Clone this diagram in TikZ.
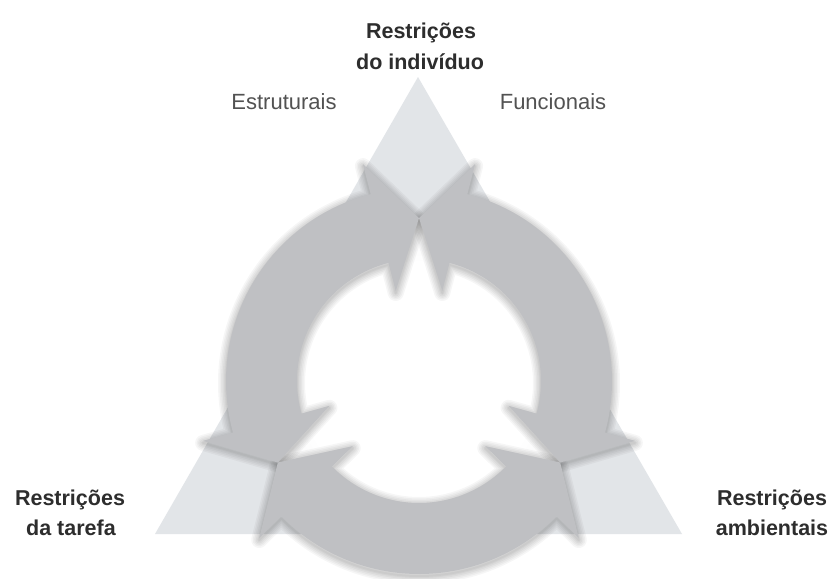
\documentclass[tikz,border=0pt]{standalone}
\usepackage{fontspec}
\setmainfont{Liberation Sans}
\definecolor{arrowgray}{RGB}{191,192,195}
\definecolor{tridark}{RGB}{206,210,214}
\definecolor{trilight}{RGB}{226,229,232}
\definecolor{diskedge}{RGB}{232,232,233}
\definecolor{labeldark}{RGB}{45,45,45}
\definecolor{labelgray}{RGB}{82,82,82}
\pgfdeclareradialshading{trishade}{\pgfpoint{0bp}{0bp}}{color(0bp)=(trilight); color(26bp)=(trilight); color(50bp)=(tridark)}
\pgfdeclareradialshading{diskshade}{\pgfpoint{0bp}{0bp}}{color(0bp)=(white); color(18bp)=(white); color(37bp)=(diskedge); color(50bp)=(diskedge)}
\begin{document}
\begin{tikzpicture}[x=1pt,y=1pt,
  arrowshape/.style={fill=arrowgray},
  softshadow/.style={draw=black, draw opacity=0.035, line join=round},
  boldlabel/.style={font=\fontsize{21.5}{26}\selectfont\bfseries, text=labeldark, inner sep=0pt, anchor=base},
  sublabel/.style={font=\fontsize{22}{26}\selectfont, text=labelgray, inner sep=0pt, anchor=base}]
\useasboundingbox[fill=white] (0,0) rectangle (834,-578);
\coordinate (C) at (419,-381);
\coordinate (T) at (418,-77);
\coordinate (BL) at (155,-534);
\coordinate (BR) at (682,-534);
% triangle
\begin{scope}
  \clip (T) -- (BL) -- (BR) -- cycle;
  \shade[shading=trishade] (C) circle (305);
\end{scope}
% inner disk
\shade[shading=diskshade] (C) circle (163);
% arrow outline: tips at m-60 and m+60, barbs at m-45.5 and m+45.5
\def\arrowpath{(\aa:163) -- (\ba:224) -- (\ba:193)
     arc[start angle=\ba, end angle=\bb, radius=193]
     -- (\bb:224) -- (\ab:163) -- (\bb:93) -- (\bb:122)
     arc[start angle=\bb, end angle=\ba, radius=122]
     -- (\ba:93) -- cycle}
% soft shadows
\begin{scope}[shift={(C)}, yshift=-2pt]
\foreach \aa/\ba/\bb/\ab in {90/104.5/195.5/210, 210/224.5/315.5/330, -30/-15.5/75.5/90} {
  \foreach \w in {16,13,10,7,4,2} {
    \path[softshadow, line width=\w pt] \arrowpath;
  }
}
\end{scope}
% three double-headed curved arrows
\begin{scope}[shift={(C)}]
\foreach \aa/\ba/\bb/\ab in {90/104.5/195.5/210, 210/224.5/315.5/330, -30/-15.5/75.5/90} {
  \path[arrowshape] \arrowpath;
}
\end{scope}
% labels
\node[boldlabel] (ind1) at (421,-38) {Restrições};
\node[boldlabel] (ind2) at (420,-69) {do indivíduo};
\node[sublabel] (est) at (284,-109) {Estruturais};
\node[sublabel] (fun) at (553,-109) {Funcionais};
\node[boldlabel] (tar1) at (70,-505) {Restrições};
\node[boldlabel] (tar2) at (71,-535) {da tarefa};
\node[boldlabel] (amb1) at (772,-505) {Restrições};
\node[boldlabel] (amb2) at (772,-535) {ambientais};
\end{tikzpicture}
\end{document}
